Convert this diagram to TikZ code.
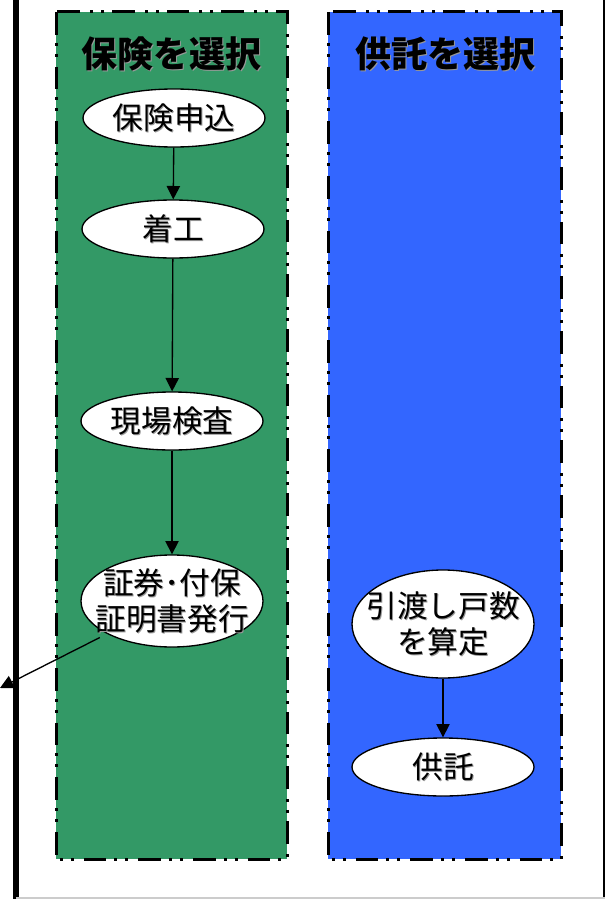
\documentclass[tikz,border=0pt]{standalone}
\usepackage{fontspec}
\setmainfont{Noto Sans CJK JP}
\usetikzlibrary{shapes.geometric,arrows.meta}

\definecolor{hokengreen}{RGB}{51,153,102}
\definecolor{kyotakublue}{RGB}{51,102,255}
% text with a light grey drop shadow
\newcommand{\shd}[1]{\makebox[0pt][l]{\kern0.8pt\raisebox{-0.8pt}{\textcolor{gray!80}{#1}}}#1}

\begin{document}
\begin{tikzpicture}[x=0.75pt, y=-0.75pt,
  lane/.style={line width=2.25pt, dash pattern=on 17pt off 6pt on 2.25pt off 6pt on 2.25pt off 7.5pt},
  ttl/.style={font=\fontsize{27}{30}\selectfont\bfseries},
  proc/.style={ellipse, draw, fill=white, line width=1pt, inner xsep=-10pt, inner ysep=-3pt,
    minimum width=136.5pt, minimum height=43.5pt, align=center, font=\fontsize{23}{27}\selectfont},
  flow/.style={-{Triangle[length=10pt,width=10pt]}, line width=1pt}]

  \fill[white] (0,0) rectangle (605,899);
  \useasboundingbox (0,0) rectangle (605,899);

  % frame
  \draw[line width=4.5pt] (16,0) -- (16,899);
  \draw[line width=1.5pt] (604,0) -- (604,899);
  \draw[gray!40, line width=1.2pt] (16,898) -- (605,898);

  % lanes
  \filldraw[lane, fill=hokengreen] (56,12) rectangle (287,859);
  \filldraw[lane, fill=kyotakublue] (328,12) rectangle (561,859);

  \node[ttl] (insTitle) at (171,54) {\shd{保険を選択}};
  \node[ttl] (depTitle) at (445,54) {\shd{供託を選択}};

  % insurance
  \node[proc] (apply) at (174,118) {\shd{保険申込}};
  \node[proc] (start) at (173,229) {\shd{着工}};
  \node[proc] (inspect) at (172,421) {\shd{現場検査}};
  \node[proc, minimum height=69pt] (cert) at (172,601) {\shd{証券･付保}\\\shd{証明書発行}};
  \coordinate (out) at (0,688);

  \draw[flow] (apply) -- (start);
  \draw[flow] (start) -- (inspect);
  \draw[flow] (inspect) -- (cert);
  \draw[flow, shorten <=6pt] (cert) -- (out);

  % deposit
  \node[proc, minimum height=81pt] (count) at (443,624) {\shd{引渡し戸数}\\\shd{を算定}};
  \node[proc] (deposit) at (443,767) {\shd{供託}};

  \draw[flow] (count) -- (deposit);

\end{tikzpicture}
\end{document}
